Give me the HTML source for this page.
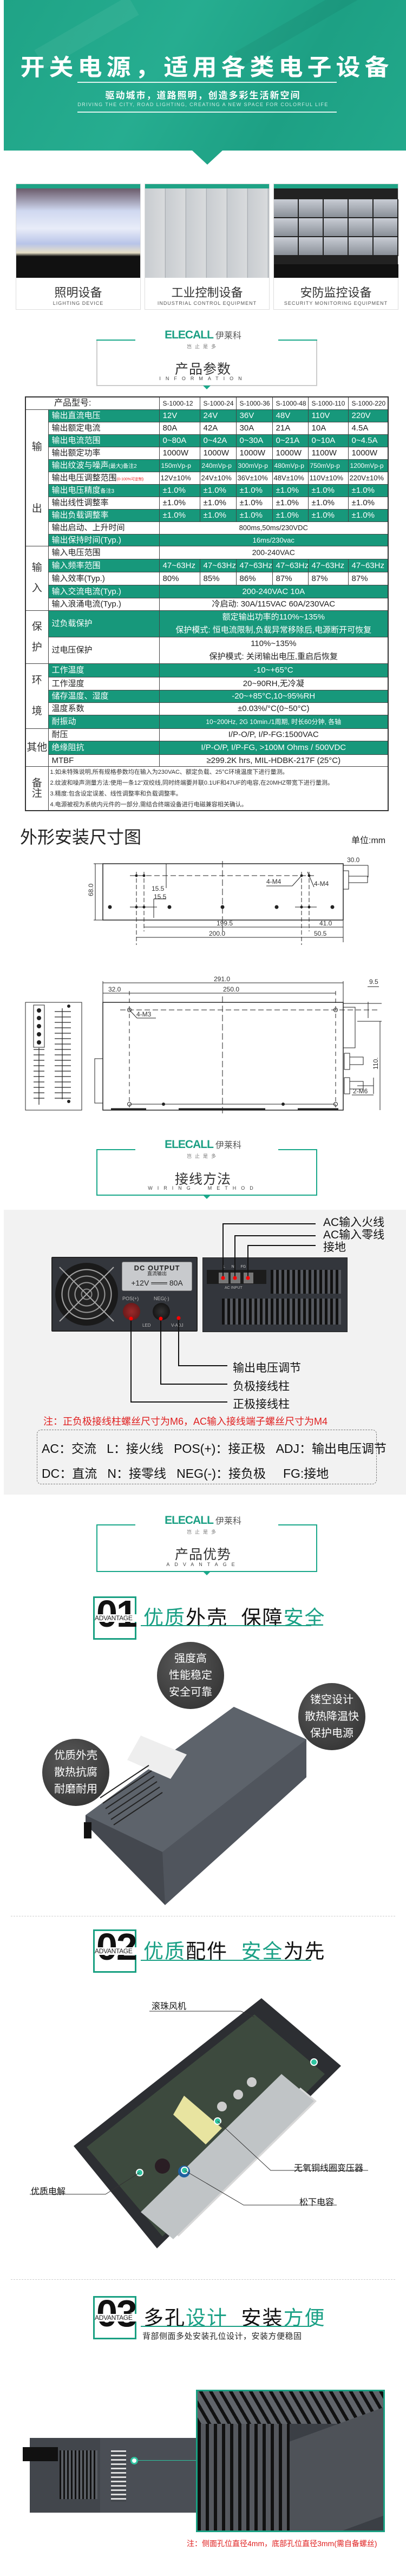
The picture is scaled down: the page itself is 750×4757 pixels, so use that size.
<!DOCTYPE html>
<html><head><meta charset="utf-8">
<style>
*{margin:0;padding:0;box-sizing:border-box}
body{width:750px;height:4757px;position:relative;background:#fff;font-family:"Liberation Sans","Noto Sans CJK SC",sans-serif;overflow:hidden;color:#222}
.a{position:absolute}
.c{text-align:center}
.logo{position:absolute;left:0;width:750px;text-align:center}
.logo b{color:#1a9f83;font-size:21px;letter-spacing:-1px;font-weight:bold}
.logo span{color:#555;font-size:16px;margin-left:4px}
.logo i{display:block;font-style:normal;font-size:9px;color:#777;letter-spacing:6px;margin-top:2px}
.frame{position:absolute;left:178px;width:408px;border:2px solid #1aa88a;border-top:none}
.frame:before{content:"";position:absolute;left:-2px;top:0;width:72px;border-top:2px solid #1aa88a}
.frame:after{content:"";position:absolute;right:-2px;top:0;width:72px;border-top:2px solid #1aa88a}
.tri{position:absolute;width:0;height:0;border-left:7px solid transparent;border-right:7px solid transparent;border-top:7px solid #1aa88a}
.ft{position:absolute;left:0;width:750px;text-align:center;font-size:25px;color:#333;letter-spacing:1px}
.fe{position:absolute;left:0;width:750px;text-align:center;font-size:9px;color:#444;letter-spacing:9px}
table{position:absolute;left:46px;top:732px;border-collapse:collapse;table-layout:fixed;width:670px;border:2px solid #333}
td{border:1px solid #444;font-size:15px;padding:0 6px;white-space:nowrap;overflow:hidden;line-height:1}
tr.g td.v,tr.g td.n{background:#17987b;color:#fff}
td.L{font-size:19px;text-align:center;background:#fff;color:#333;padding:0}
td.cc{text-align:center}
.num{position:absolute;width:80px;height:80px;border:3px solid #19a082;background:#fff}
.num b{position:absolute;left:3px;top:-6px;font-size:70px;font-weight:bold;color:#111;letter-spacing:-2px;line-height:1}
.num span{position:absolute;left:0;top:30px;width:78px;background:#fff;font-size:12px;color:#222;letter-spacing:-0.3px}
.ah{position:absolute;left:265px;font-size:37px;color:#111;letter-spacing:2px}
.ah em{font-style:normal;color:#1aa085}
.ul{position:absolute;left:260px;width:315px;height:2px;background:#1aa085}
.bub{position:absolute;width:124px;height:124px;border-radius:50%;background:radial-gradient(circle at 40% 35%,#5a5a5a,#2c2c2c);color:#fff;font-size:20px;text-align:center;line-height:31px;padding-top:16px}
.dash{position:absolute;left:20px;width:710px;border-top:1px dashed #ccc}
</style></head><body>

<!-- Banner -->
<div class="a" style="left:7px;top:0;width:743px;height:278px;background:linear-gradient(120deg,#1fa386 0%,#26ad90 40%,#1da084 70%,#22a98b 100%)"></div>
<div class="a" style="left:60px;top:40px;width:200px;height:40px;background:rgba(255,255,255,0.06);transform:rotate(-30deg)"></div>
<div class="a" style="left:420px;top:20px;width:300px;height:30px;background:rgba(0,0,0,0.05);transform:rotate(-30deg)"></div>
<div class="a" style="left:354px;top:277px;width:0;height:0;border-left:29px solid transparent;border-right:29px solid transparent;border-top:27px solid #21a588"></div>
<div class="a c" style="left:0;top:88px;width:764px;font-size:45px;color:#fff;letter-spacing:8px;font-weight:bold;transform:scaleY(0.95)">开关电源，适用各类电子设备</div>
<div class="a" style="left:143px;top:151px;width:479px;height:2px;background:#dff3ee"></div>
<div class="a c" style="left:0;top:162px;width:750px;font-size:17px;color:#fff;letter-spacing:2px;font-weight:bold">驱动城市，道路照明，创造多彩生活新空间</div>
<div class="a c" style="left:0;top:188px;width:750px;font-size:9px;color:#cfeee6;letter-spacing:1.4px">DRIVING THE CITY, ROAD LIGHTING, CREATING A NEW SPACE FOR COLORFUL LIFE</div>
<div class="a" style="left:143px;top:206px;width:479px;height:2px;background:#dff3ee"></div>

<!-- Cards -->
<div class="a" style="left:29px;top:339px;width:231px;height:233px;border:1px solid #ddd">
 <div style="height:8px;background:#1fa386"></div>
 <div style="height:165px;background:linear-gradient(180deg,#6a5a6a 0%,#cfd8f0 25%,#e8ecf8 45%,#b8c4e8 62%,#e8e0c8 72%,#111 76%,#111 100%)"></div>
 <div class="c" style="font-size:22px;color:#333;margin-top:10px">照明设备</div>
 <div class="c" style="font-size:9px;color:#555;letter-spacing:1px">LIGHTING DEVICE</div>
</div>
<div class="a" style="left:267px;top:339px;width:231px;height:233px;border:1px solid #ddd">
 <div style="height:8px;background:#1fa386"></div>
 <div style="height:165px;background:repeating-linear-gradient(90deg,#c8ccd0 0,#d8dadc 36px,#9aa0a6 38px),#ccc"></div>
 <div class="c" style="font-size:22px;color:#333;margin-top:10px">工业控制设备</div>
 <div class="c" style="font-size:9px;color:#555;letter-spacing:1px">INDUSTRIAL CONTROL EQUIPMENT</div>
</div>
<div class="a" style="left:505px;top:339px;width:231px;height:233px;border:1px solid #ddd">
 <div style="height:8px;background:#1fa386"></div>
 <div style="height:165px;background:#222;position:relative">
  <div class="a" style="left:0;top:20px;width:230px;height:105px;background:repeating-linear-gradient(90deg,transparent 0,transparent 44px,#222 44px,#222 46px),repeating-linear-gradient(180deg,#c8ccd4 0,#8a9098 33px,#222 33px,#222 35px)"></div>
  <div class="a" style="left:0;top:140px;width:230px;height:25px;background:#111"></div>
 </div>
 <div class="c" style="font-size:22px;color:#333;margin-top:10px">安防监控设备</div>
 <div class="c" style="font-size:9px;color:#555;letter-spacing:1px">SECURITY MONITORING EQUIPMENT</div>
</div>

<!-- Header 1 -->
<div class="logo" style="top:606px"><b>ELECALL</b><span>伊莱科</span><i>岂止是多</i></div>
<div class="frame" style="top:627px;height:86px;border-color:#ccc"></div>
<div class="ft" style="top:662px">产品参数</div>
<div class="fe" style="top:694px">INFORMATION</div>
<div class="tri" style="left:375px;top:712px"></div>

<!-- Table -->
<table>
<colgroup><col style="width:42px"><col style="width:205px"><col style="width:75px"><col style="width:67px"><col style="width:67px"><col style="width:66px"><col style="width:74px"><col style="width:74px"></colgroup>
<tr style="height:23px"><td colspan="2" style="padding-left:52px;font-size:16px">产品型号:</td><td style="font-size:12px">S-1000-12</td><td style="font-size:12px">S-1000-24</td><td style="font-size:12px">S-1000-36</td><td style="font-size:12px">S-1000-48</td><td style="font-size:12px">S-1000-110</td><td style="font-size:12px">S-1000-220</td></tr>
<tr class="g" style="height:23px"><td class="L" rowspan="11">输<br><br><br><br><br><br>出</td><td class="n">输出直流电压</td><td class="v">12V</td><td class="v">24V</td><td class="v">36V</td><td class="v">48V</td><td class="v">110V</td><td class="v">220V</td></tr>
<tr style="height:23px"><td class="n">输出额定电流</td><td>80A</td><td>42A</td><td>30A</td><td>21A</td><td>10A</td><td>4.5A</td></tr>
<tr class="g" style="height:23px"><td class="n">输出电流范围</td><td class="v">0~80A</td><td class="v">0~42A</td><td class="v">0~30A</td><td class="v">0~21A</td><td class="v">0~10A</td><td class="v">0~4.5A</td></tr>
<tr style="height:23px"><td class="n">输出额定功率</td><td>1000W</td><td>1000W</td><td>1000W</td><td>1000W</td><td>1100W</td><td>1000W</td></tr>
<tr class="g" style="height:23px;font-size:12px"><td class="n">输出纹波与噪声<span style="font-size:10px">(最大)备注2</span></td><td class="v" style="font-size:12px;padding:0 3px">150mVp-p</td><td class="v" style="font-size:12px;padding:0 3px">240mVp-p</td><td class="v" style="font-size:12px;padding:0 3px">300mVp-p</td><td class="v" style="font-size:12px;padding:0 3px">480mVp-p</td><td class="v" style="font-size:12px;padding:0 3px">750mVp-p</td><td class="v" style="font-size:12px;padding:0 3px">1200mVp-p</td></tr>
<tr style="height:23px"><td class="n">输出电压调整范围<span style="font-size:7px;color:#e22">(0-100%可定制)</span></td><td style="font-size:13px;padding:0 2px">12V±10%</td><td style="font-size:13px;padding:0 2px">24V±10%</td><td style="font-size:13px;padding:0 2px">36V±10%</td><td style="font-size:13px;padding:0 2px">48V±10%</td><td style="font-size:13px;padding:0 2px">110V±10%</td><td style="font-size:13px;padding:0 2px">220V±10%</td></tr>
<tr class="g" style="height:23px"><td class="n">输出电压精度<span style="font-size:10px">备注3</span></td><td class="v">±1.0%</td><td class="v">±1.0%</td><td class="v">±1.0%</td><td class="v">±1.0%</td><td class="v">±1.0%</td><td class="v">±1.0%</td></tr>
<tr style="height:23px"><td class="n">输出线性调整率</td><td>±1.0%</td><td>±1.0%</td><td>±1.0%</td><td>±1.0%</td><td>±1.0%</td><td>±1.0%</td></tr>
<tr class="g" style="height:23px"><td class="n">输出负载调整率</td><td class="v">±1.0%</td><td class="v">±1.0%</td><td class="v">±1.0%</td><td class="v">±1.0%</td><td class="v">±1.0%</td><td class="v">±1.0%</td></tr>
<tr style="height:23px"><td class="n">输出启动、上升时间</td><td colspan="6" class="cc" style="font-size:13px">800ms,50ms/230VDC</td></tr>
<tr class="g" style="height:22px"><td class="n">输出保持时间(Typ.)</td><td colspan="6" class="v cc" style="font-size:13px">16ms/230vac</td></tr>
<tr style="height:24px"><td class="L" rowspan="5">输<br><br>入</td><td class="n">输入电压范围</td><td colspan="6" class="cc" style="font-size:14px">200-240VAC</td></tr>
<tr class="g" style="height:24px"><td class="n">输入频率范围</td><td class="v">47~63Hz</td><td class="v">47~63Hz</td><td class="v">47~63Hz</td><td class="v">47~63Hz</td><td class="v">47~63Hz</td><td class="v">47~63Hz</td></tr>
<tr style="height:24px"><td class="n">输入效率(Typ.)</td><td>80%</td><td>85%</td><td>86%</td><td>87%</td><td>87%</td><td>87%</td></tr>
<tr class="g" style="height:24px"><td class="n">输入交流电流(Typ.)</td><td colspan="6" class="v cc">200-240VAC 10A</td></tr>
<tr style="height:23px"><td class="n">输入浪涌电流(Typ.)</td><td colspan="6" class="cc">冷启动: 30A/115VAC 60A/230VAC</td></tr>
<tr class="g" style="height:48px"><td class="L" rowspan="2">保<br><br>护</td><td class="n">过负载保护</td><td colspan="6" class="v cc" style="line-height:24px">额定输出功率的110%~135%<br>保护模式: 恒电流限制,负载异常移除后,电源断开可恢复</td></tr>
<tr style="height:47px"><td class="n">过电压保护</td><td colspan="6" class="cc" style="line-height:24px">110%~135%<br>保护模式: 关闭输出电压,重启后恢复</td></tr>
<tr class="g" style="height:25px"><td class="L" rowspan="5">环<br><br><br>境</td><td class="n">工作温度</td><td colspan="6" class="v cc">-10~+65°C</td></tr>
<tr style="height:24px"><td class="n">工作湿度</td><td colspan="6" class="cc">20~90RH,无冷凝</td></tr>
<tr class="g" style="height:23px"><td class="n">储存温度、湿度</td><td colspan="6" class="v cc">-20~+85°C,10~95%RH</td></tr>
<tr style="height:23px"><td class="n">温度系数</td><td colspan="6" class="cc">±0.03%/°C(0~50°C)</td></tr>
<tr class="g" style="height:25px"><td class="n">耐振动</td><td colspan="6" class="v cc" style="font-size:12px">10~200Hz, 2G 10min./1周期, 时长60分钟, 各轴</td></tr>
<tr style="height:23px"><td class="L" rowspan="3">其他</td><td class="n">耐压</td><td colspan="6" class="cc">I/P-O/P, I/P-FG:1500VAC</td></tr>
<tr class="g" style="height:25px"><td class="n">绝缘阻抗</td><td colspan="6" class="v cc">I/P-O/P, I/P-FG, &gt;100M Ohms / 500VDC</td></tr>
<tr style="height:22px"><td class="n">MTBF</td><td colspan="6" class="cc">≥299.2K hrs, MIL-HDBK-217F (25°C)</td></tr>
<tr style="height:80px"><td class="L">备<br>注</td><td colspan="7" style="font-size:11px;line-height:20px;padding-left:3px;color:#333">1.如未特殊说明,所有规格参数均在输入为230VAC、额定负载、25°C环境温度下进行量测。<br>2.纹波和噪声测量方法:使用一条12"双绞线,同时终端要并联0.1UF和47UF的电容,在20MHZ带宽下进行量测。<br>3.精度:包含设定误差、线性调整率和负载调整率。<br>4.电源被视为系统内元件的一部分,需结合终端设备进行电磁兼容相关确认。</td></tr>
</table>

<!-- Dimension drawings -->
<div class="a" style="left:37px;top:1521px;font-size:32px;color:#222">外形安装尺寸图</div>
<div class="a" style="left:649px;top:1538px;font-size:16px;color:#222">单位:mm</div>
<svg class="a" style="left:0;top:1580px" width="750" height="480" viewBox="0 1580 750 480" font-family="Liberation Sans" font-size="12" fill="none" stroke="#222">
 <rect x="190" y="1595" width="444" height="104" stroke-width="1.5"/>
 <line x1="173" y1="1595" x2="190" y2="1595"/><line x1="173" y1="1699" x2="190" y2="1699"/><line x1="176" y1="1595" x2="176" y2="1699"/>
 <text x="0" y="0" fill="#333" stroke="none" transform="translate(172,1655) rotate(-90)">68.0</text>
 <line x1="240" y1="1617" x2="585" y2="1617" stroke-dasharray="10,5"/>
 <line x1="411" y1="1590" x2="411" y2="1720" stroke-dasharray="12,5"/>
 <line x1="252" y1="1610" x2="252" y2="1745" stroke-dasharray="8,4"/><line x1="266" y1="1610" x2="266" y2="1720" stroke-dasharray="8,4"/>
 <line x1="557" y1="1610" x2="557" y2="1745" stroke-dasharray="8,4"/><line x1="571" y1="1610" x2="571" y2="1720" stroke-dasharray="8,4"/>
 <g fill="#222" stroke="none"><circle cx="252" cy="1617" r="2.5"/><circle cx="266" cy="1617" r="2.5"/><circle cx="557" cy="1617" r="2.5"/><circle cx="571" cy="1617" r="2.5"/>
 <circle cx="203" cy="1675" r="3.5"/><circle cx="252" cy="1675" r="2.5"/><circle cx="266" cy="1675" r="2.5"/><circle cx="313" cy="1675" r="3.5"/><circle cx="411" cy="1675" r="3.5"/><circle cx="511" cy="1675" r="3.5"/><circle cx="557" cy="1675" r="2.5"/><circle cx="571" cy="1675" r="2.5"/><circle cx="614" cy="1675" r="3.5"/></g>
 <line x1="240" y1="1675" x2="290" y2="1675"/><line x1="545" y1="1675" x2="585" y2="1675"/>
 <line x1="307" y1="1595" x2="307" y2="1640"/><line x1="284" y1="1695" x2="284" y2="1660"/><line x1="284" y1="1660" x2="307" y2="1660"/>
 <text x="280" y="1645" fill="#333" stroke="none">15.5</text><text x="284" y="1660" fill="#333" stroke="none">15.5</text>
 <text x="492" y="1632" fill="#333" stroke="none">4-M4</text><line x1="492" y1="1636" x2="540" y2="1636"/><line x1="540" y1="1636" x2="557" y2="1617"/>
 <text x="580" y="1636" fill="#333" stroke="none">4-M4</text><line x1="580" y1="1638" x2="568" y2="1610"/>
 <rect x="634" y="1608" width="10" height="34"/><rect x="644" y="1618" width="35" height="12"/>
 <line x1="634" y1="1598" x2="680" y2="1598"/><line x1="680" y1="1598" x2="680" y2="1620"/>
 <text x="641" y="1592" fill="#333" stroke="none">30.0</text>
 <line x1="266" y1="1712" x2="570" y2="1712"/><text x="400" y="1709" fill="#333" stroke="none">199.5</text>
 <line x1="571" y1="1712" x2="634" y2="1712"/><text x="590" y="1709" fill="#333" stroke="none">41.0</text>
 <line x1="252" y1="1731" x2="557" y2="1731"/><text x="386" y="1728" fill="#333" stroke="none">200.0</text>
 <line x1="557" y1="1731" x2="634" y2="1731"/><line x1="634" y1="1700" x2="634" y2="1740"/><text x="580" y="1728" fill="#333" stroke="none">50.5</text>

 <!-- drawing 2 -->
 <line x1="190" y1="1815" x2="634" y2="1815"/><line x1="190" y1="1812" x2="190" y2="1851"/><line x1="634" y1="1812" x2="634" y2="1851"/>
 <text x="395" y="1812" fill="#333" stroke="none">291.0</text>
 <line x1="190" y1="1834" x2="620" y2="1834"/><text x="200" y="1831" fill="#333" stroke="none">32.0</text><text x="412" y="1831" fill="#333" stroke="none">250.0</text>
 <rect x="190" y="1851" width="444" height="199" stroke-width="1.5"/>
 <line x1="222" y1="1865" x2="700" y2="1865" stroke-dasharray="10,5"/>
 <line x1="239" y1="1830" x2="239" y2="2045" stroke-dasharray="8,6"/>
 <line x1="411" y1="1840" x2="411" y2="2060" stroke-dasharray="12,5"/>
 <line x1="620" y1="1830" x2="620" y2="2045" stroke-dasharray="8,6"/>
 <circle cx="239" cy="1865" r="3.5"/><circle cx="620" cy="1865" r="3.5"/><circle cx="239" cy="2039" r="3.5"/><circle cx="620" cy="2039" r="3.5"/>
 <line x1="239" y1="2039" x2="620" y2="2039"/>
 <g fill="#222" stroke="none"><circle cx="302" cy="2039" r="3"/><circle cx="523" cy="2039" r="3"/></g>
 <line x1="240" y1="1866" x2="253" y2="1880"/><line x1="253" y1="1880" x2="288" y2="1880"/><text x="252" y="1877" fill="#333" stroke="none">4-M3</text>
 <path d="M205 2048 L270 2048 M330 2048 L490 2048 M550 2048 L625 2048" stroke-width="3"/>
 <rect x="175" y="1955" width="15" height="82"/>
 <path d="M634 1860 L656 1860 L656 1935 L634 1935"/>
 <rect x="636" y="1945" width="10" height="30"/><rect x="646" y="1952" width="25" height="14"/>
 <rect x="636" y="1990" width="10" height="30"/><rect x="646" y="1997" width="25" height="14"/>
 <line x1="680" y1="1850" x2="680" y2="1880"/><line x1="634" y1="1853" x2="705" y2="1853"/><line x1="660" y1="1886" x2="705" y2="1886"/>
 <text x="682" y="1817" fill="#333" stroke="none">9.5</text><line x1="679" y1="1822" x2="700" y2="1822"/>
 <line x1="702" y1="1886" x2="702" y2="2050"/>
 <text x="0" y="0" fill="#333" stroke="none" transform="translate(698,1975) rotate(-90)">110.</text>
 <line x1="660" y1="2005" x2="690" y2="2005"/><line x1="690" y1="1990" x2="690" y2="2020"/><line x1="650" y1="2022" x2="690" y2="2022"/>
 <text x="652" y="2019" fill="#333" stroke="none">2-M6</text>
 <!-- left view -->
 <rect x="47" y="1851" width="104" height="199"/>
 <rect x="62" y="1856" width="20" height="78"/>
 <g fill="#222" stroke="none"><circle cx="72" cy="1866" r="4"/><circle cx="72" cy="1880" r="4"/><circle cx="72" cy="1895" r="4"/><circle cx="72" cy="1910" r="4"/><circle cx="72" cy="1925" r="4"/><circle cx="127" cy="1858" r="3"/><circle cx="127" cy="2034" r="3"/></g>
 <g stroke-width="1.2">
  <path d="M62 1938 h20 M62 1948 h20 M62 1958 h20 M62 1968 h20 M62 1978 h20 M62 1988 h20 M62 1998 h20 M62 2008 h20 M62 2018 h20 M62 2028 h20"/>
  <path d="M101 1868 h30 M101 1878 h30 M101 1888 h30 M101 1898 h30 M101 1908 h30 M101 1918 h30 M101 1928 h30 M101 1938 h30 M101 1948 h30 M101 1958 h30 M101 1968 h30 M101 1978 h30 M101 1988 h30 M101 1998 h30 M101 2008 h30 M101 2018 h30 M101 2028 h30"/>
  <line x1="72" y1="1935" x2="72" y2="2040"/><line x1="115" y1="1862" x2="115" y2="2030"/>
 </g>
</svg>

<!-- Header 2 -->
<div class="logo" style="top:2101px"><b>ELECALL</b><span>伊莱科</span><i>岂止是多</i></div>
<div class="frame" style="top:2122px;height:86px"></div>
<div class="ft" style="top:2158px">接线方法</div>
<div class="fe" style="top:2189px">WIRING&nbsp;&nbsp;METHOD</div>
<div class="tri" style="left:375px;top:2207px"></div>

<!-- Wiring panel -->
<div class="a" style="left:7px;top:2234px;width:743px;height:526px;background:#f2f2f2"></div>
<div class="a" style="left:95px;top:2321px;width:270px;height:138px;background:#33363c;border:2px solid #222;border-radius:2px"></div>
<div class="a" style="left:102px;top:2332px;width:116px;height:116px;border-radius:50%;background:radial-gradient(circle,#222 0 8px,#888 9px 10px,#222 11px 20px,#999 21px 22px,#222 23px 32px,#999 33px 34px,#222 35px 44px,#aaa 45px 46px,#1a1a1a 47px)"></div>
<svg class="a" style="left:102px;top:2332px" width="116" height="116"><line x1="8" y1="8" x2="108" y2="108" stroke="#aaa" stroke-width="2"/><line x1="108" y1="8" x2="8" y2="108" stroke="#aaa" stroke-width="2"/></svg>
<div class="a c" style="left:225px;top:2330px;width:130px;height:54px;background:#c8cacd;border:1px solid #888;border-radius:3px;color:#222;line-height:1">
 <div style="font-size:13px;font-weight:bold;margin-top:4px;letter-spacing:1px">DC OUTPUT</div>
 <div style="font-size:9px">直流输出</div>
 <div style="font-size:14px;margin-top:5px">+12V ═══ 80A</div>
</div>
<div class="a" style="left:226px;top:2393px;font-size:9px;color:#bbb">POS(+)</div>
<div class="a" style="left:284px;top:2393px;font-size:9px;color:#bbb">NEG(-)</div>
<div class="a" style="left:227px;top:2406px;width:32px;height:32px;border-radius:50%;background:radial-gradient(circle,#9a2a2a,#5a1414)"></div>
<div class="a" style="left:282px;top:2406px;width:32px;height:32px;border-radius:50%;background:radial-gradient(circle,#333,#0a0a0a)"></div>
<div class="a" style="left:263px;top:2443px;font-size:8px;color:#bbb">LED</div>
<div class="a" style="left:316px;top:2443px;font-size:8px;color:#bbb">V-ADJ</div>
<div class="a" style="left:374px;top:2322px;width:268px;height:138px;background:#33363c;border:1px solid #222"></div>
<div class="a" style="left:382px;top:2345px;width:110px;height:26px;background:#1c1c1c"></div>
<div class="a" style="left:404px;top:2350px;width:18px;height:20px;background:#777"></div>
<div class="a" style="left:426px;top:2350px;width:18px;height:20px;background:#777"></div>
<div class="a" style="left:450px;top:2350px;width:18px;height:20px;background:#777"></div>
<div class="a" style="left:412px;top:2336px;font-size:7px;color:#ccc;word-spacing:10px">L N FG</div>
<div class="a" style="left:415px;top:2375px;font-size:7px;color:#bbb">AC INPUT</div>
<div class="a" style="left:500px;top:2345px;width:130px;height:44px;background:repeating-linear-gradient(90deg,#111 0 5px,#55585e 5px 10px)"></div>
<div class="a" style="left:410px;top:2398px;width:220px;height:48px;background:repeating-linear-gradient(90deg,#111 0 5px,#55585e 5px 10px)"></div>
<svg class="a" style="left:0;top:2240px" width="750" height="360" viewBox="0 2240 750 360" stroke="#111" stroke-width="2" fill="none">
 <path d="M412 2360 V2260 H583 M434 2360 V2282 H583 M458 2360 V2300 H583"/>
 <path d="M242 2435 V2589 H420 M297 2435 V2556 H420 M330 2434 V2522 H420"/>
 <g fill="#f00" stroke="none"><circle cx="412" cy="2360" r="3.5"/><circle cx="434" cy="2360" r="3.5"/><circle cx="458" cy="2360" r="3.5"/><circle cx="242" cy="2435" r="3.5"/><circle cx="297" cy="2435" r="3.5"/><circle cx="330" cy="2434" r="3.5"/></g>
</svg>
<div class="a" style="left:597px;top:2246px;font-size:21px;color:#111;line-height:23px">AC输入火线<br>AC输入零线<br>接地</div>
<div class="a" style="left:430px;top:2510px;font-size:21px;color:#111">输出电压调节</div>
<div class="a" style="left:430px;top:2544px;font-size:21px;color:#111">负极接线柱</div>
<div class="a" style="left:430px;top:2577px;font-size:21px;color:#111">正极接线柱</div>
<div class="a" style="left:80px;top:2611px;font-size:18px;color:#e02020">注：正负极接线柱螺丝尺寸为M6，AC输入接线端子螺丝尺寸为M4</div>
<div class="a" style="left:68px;top:2640px;width:628px;height:101px;border:1px dashed #777;border-radius:8px"></div>
<div class="a" style="left:77px;top:2656px;font-size:23px;color:#111;white-space:pre">AC：交流   L：接火线   POS(+)：接正极   ADJ：输出电压调节</div>
<div class="a" style="left:77px;top:2702px;font-size:23px;color:#111;white-space:pre">DC：直流   N：接零线   NEG(-)：接负极     FG:接地</div>

<!-- Header 3 -->
<div class="logo" style="top:2795px"><b>ELECALL</b><span>伊莱科</span><i>岂止是多</i></div>
<div class="frame" style="top:2815px;height:88px"></div>
<div class="ft" style="top:2851px">产品优势</div>
<div class="fe" style="top:2884px">ADVANTAGE</div>
<div class="tri" style="left:375px;top:2902px"></div>

<!-- Advantage 01 -->
<div class="num" style="left:172px;top:2948px"><b>01</b><span>ADVANTAGE</span></div>
<div class="ah" style="top:2957px"><em>优质</em>外壳&nbsp;&nbsp;保障<em>安全</em></div>
<div class="ul" style="top:3001px"></div>
<svg class="a" style="left:0;top:3140px" width="750" height="390" viewBox="0 3140 750 390">
 <polygon points="432,3152 566,3212 566,3282 305,3518 158,3368 158,3352" fill="#50555d"/>
 <polygon points="158,3352 432,3152 566,3212 300,3420" fill="#5d636b"/>
 <polygon points="158,3352 300,3420 305,3518 158,3368" fill="#44484f"/>
 <polygon points="260,3205 345,3240 315,3285 235,3250" fill="#eee"/>
 <g stroke="#222" stroke-width="2"><path d="M185 3320 l90 -60 M190 3330 l90 -60 M195 3340 l90 -60 M200 3350 l90 -60 M205 3360 l90 -60 M210 3370 l90 -60"/></g>
 <rect x="155" y="3365" width="14" height="30" fill="#111"/>
</svg>
<div class="bub" style="left:290px;top:3032px">强度高<br>性能稳定<br>安全可靠</div>
<div class="bub" style="left:551px;top:3108px">镂空设计<br>散热降温快<br>保护电源</div>
<div class="bub" style="left:78px;top:3211px">优质外壳<br>散热抗腐<br>耐磨耐用</div>
<div class="dash" style="top:3538px"></div>

<!-- Advantage 02 -->
<div class="num" style="left:172px;top:3563px"><b>02</b><span>ADVANTAGE</span></div>
<div class="ah" style="top:3573px"><em>优质</em>配件&nbsp;&nbsp;<em>安全</em>为先</div>
<div class="ul" style="top:3619px"></div>
<svg class="a" style="left:0;top:3680px" width="750" height="480" viewBox="0 3680 750 480">
 <polygon points="483,3690 630,3815 290,4152 136,3963" fill="#2c2e32"/>
 <polygon points="470,3720 600,3830 300,4130 160,3965" fill="#3d4a3e"/>
 <polygon points="555,3855 585,3880 330,4130 300,4105" fill="#d8d8d8"/>
 <polygon points="520,3830 580,3880 320,4135 260,4085" fill="#c0c4c6"/>
 <polygon points="340,3870 410,3930 380,3960 320,3905" fill="#e8e4a0"/>
 <circle cx="410" cy="3890" r="9" fill="#ccc"/><circle cx="440" cy="3868" r="9" fill="#ccc"/><circle cx="465" cy="3845" r="9" fill="#ccc"/>
 <circle cx="300" cy="4000" r="14" fill="#2a1e24"/><circle cx="340" cy="4010" r="11" fill="#2060a0"/>
 <circle cx="580" cy="3808" r="6" fill="#2ec4a0" stroke="#fff" stroke-width="2"/><circle cx="402" cy="3917" r="6" fill="#2ec4a0" stroke="#fff" stroke-width="2"/>
 <circle cx="258" cy="4012" r="6" fill="#2ec4a0" stroke="#fff" stroke-width="2"/><circle cx="341" cy="4008" r="6" fill="#2ec4a0" stroke="#fff" stroke-width="2"/>
 <g stroke="#333" stroke-width="1" fill="none"><path d="M276 3714 H445 L470 3725"/><path d="M402 3917 L500 4008 H680"/><path d="M341 4008 L450 4072 H622"/><path d="M55 4052 H195 L258 4012"/></g>
</svg>
<div class="a" style="left:280px;top:3691px;font-size:16px;color:#111">滚珠风机</div>
<div class="a" style="left:543px;top:3990px;font-size:16px;color:#111">无氧铜线圈变压器</div>
<div class="a" style="left:57px;top:4033px;font-size:16px;color:#111">优质电解</div>
<div class="a" style="left:553px;top:4053px;font-size:16px;color:#111">松下电容</div>
<div class="dash" style="top:4209px"></div>

<!-- Advantage 03 -->
<div class="num" style="left:172px;top:4240px"><b>03</b><span>ADVANTAGE</span></div>
<div class="ah" style="top:4250px">多孔<em>设计</em>&nbsp;&nbsp;安装<em>方便</em></div>
<div class="ul" style="top:4295px"></div>
<div class="a" style="left:263px;top:4303px;font-size:15px;color:#222;letter-spacing:0.5px">背部侧面多处安装孔位设计，安装方便稳固</div>
<div class="a" style="left:55px;top:4502px;width:310px;height:138px;background:#4a4e55"></div>
<div class="a" style="left:55px;top:4502px;width:130px;height:138px;background:#42464c"></div>
<div class="a" style="left:110px;top:4525px;width:70px;height:90px;background:repeating-linear-gradient(90deg,#111 0 3px,#5a5e64 3px 7px)"></div>
<div class="a" style="left:42px;top:4519px;width:65px;height:26px;background:#111"></div>
<div class="a" style="left:205px;top:4525px;width:28px;height:95px;background:repeating-linear-gradient(180deg,#ddd 0 3px,#44484e 3px 8px)"></div>
<div class="a" style="left:241px;top:4537px;width:14px;height:14px;border-radius:50%;border:3px solid #2ec4a0;background:#fff"></div>
<div class="a" style="left:255px;top:4543px;width:108px;height:1px;background:#2ec4a0"></div>
<div class="a" style="left:362px;top:4413px;width:349px;height:263px;border:3px solid #19a082;background:#3b3f45;overflow:hidden">
 <div class="a" style="left:0;top:0;width:343px;height:60px;background:repeating-linear-gradient(60deg,#111 0 6px,#60646a 6px 16px)"></div>
 <div class="a" style="left:0;top:60px;width:170px;height:200px;background:repeating-linear-gradient(90deg,#111 0 6px,#55585e 6px 15px)"></div>
 <div class="a" style="left:170px;top:60px;width:180px;height:200px;background:#4e5258;transform:skewY(-20deg)"></div>
</div>
<div class="a" style="left:345px;top:4687px;font-size:14px;color:#e02020">注：侧面孔位直径4mm，底部孔位直径3mm(需自备螺丝)</div>
</body></html>
